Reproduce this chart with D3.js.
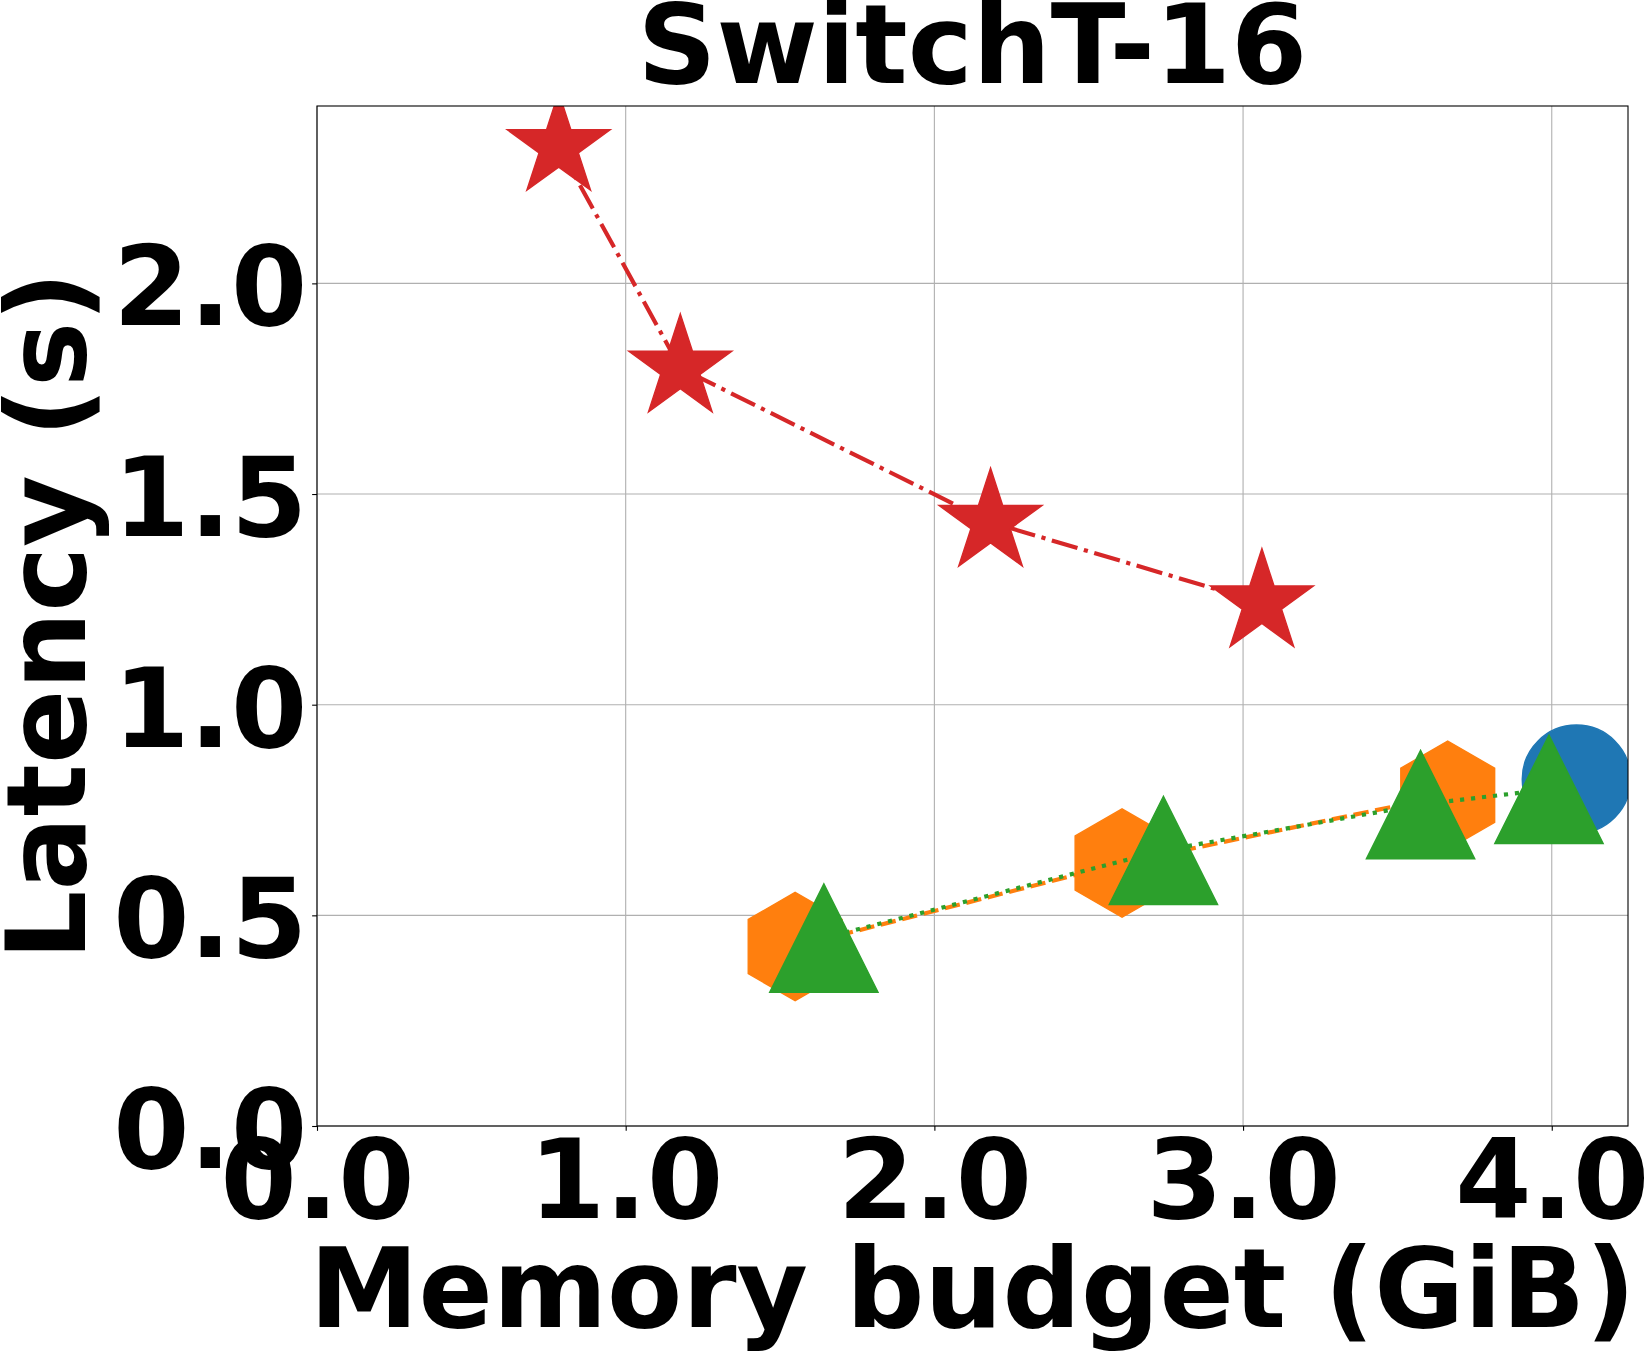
<!DOCTYPE html>
<html>
<head>
<meta charset="utf-8">
<script src="https://cdn.jsdelivr.net/npm/d3@7"></script>
<style>
  html, body { margin: 0; padding: 0; background: #fff; }
  svg { display: block; }
  text { font-family: "DejaVu Sans", sans-serif; font-weight: bold; fill: #000; }
</style>
</head>
<body>
<div id="chart"></div>
<script>
// ---- data ----
const title = "SwitchT-16";
const xLabel = "Memory budget (GiB)";
const yLabel = "Latency (s)";
const xTicks = [0, 1, 2, 3, 4];
const yTicks = [0, 0.5, 1.0, 1.5, 2.0];
const xDomain = [0, 4.247];
const yDomain = [0, 2.421];

const seriesNames = ["circle", "hexagon", "triangle", "star"];
const seriesColors = ["#1f77b4", "#ff7f0e", "#2ca02c", "#d62728"];
const seriesDash = [null, "15.4,6.67", "4.17,6.875", "26.7,6.67,4.17,6.67"];

const circleMem = [4.080];
const circleLat = [0.823];
const hexMem = [1.549, 2.608, 3.663];
const hexLat = [0.426, 0.624, 0.785];
const triMem = [1.642, 2.742, 3.575, 3.991];
const triLat = [0.446, 0.654, 0.763, 0.799];
const starMem = [0.783, 1.177, 2.182, 3.061];
const starLat = [2.325, 1.799, 1.433, 1.242];

// ---- layout ----
const W = 1644, H = 1355;
const plot = { left: 317, top: 106, right: 1628, bottom: 1126 };
const FS = 109.6;
const tickLen = 4.86;
const ms = 108.4;        // marker size (px)
const lw = 4.17;         // line width (px)

const svg = d3.select("#chart").append("svg").attr("width", W).attr("height", H);

const x = d3.scaleLinear().domain(xDomain).range([plot.left, plot.right]);
const y = d3.scaleLinear().domain(yDomain).range([plot.bottom, plot.top]);

svg.append("defs").append("clipPath").attr("id", "clip")
  .append("rect")
  .attr("x", plot.left).attr("y", plot.top)
  .attr("width", plot.right - plot.left).attr("height", plot.bottom - plot.top);

// grid
const grid = svg.append("g");
grid.selectAll(".gx").data(xTicks).enter().append("line")
  .attr("x1", d => x(d)).attr("x2", d => x(d))
  .attr("y1", plot.top).attr("y2", plot.bottom)
  .attr("stroke", "#b0b0b0").attr("stroke-width", 1.1);
grid.selectAll(".gy").data(yTicks).enter().append("line")
  .attr("y1", d => y(d)).attr("y2", d => y(d))
  .attr("x1", plot.left).attr("x2", plot.right)
  .attr("stroke", "#b0b0b0").attr("stroke-width", 1.1);

// marker paths
function starPath(r) {
  const pts = [];
  for (let i = 0; i < 10; i++) {
    const a = (-90 + i * 36) * Math.PI / 180;
    const rr = i % 2 === 0 ? r : r * 0.381966;
    pts.push([rr * Math.cos(a), rr * Math.sin(a)]);
  }
  return "M" + pts.map(p => p.join(",")).join("L") + "Z";
}
function hexPath(r) {
  const pts = [];
  for (let i = 0; i < 6; i++) {
    const a = (-90 + i * 60) * Math.PI / 180;
    pts.push([r * Math.cos(a), r * Math.sin(a)]);
  }
  return "M" + pts.map(p => p.join(",")).join("L") + "Z";
}
function triPath(h) {
  return `M0,${-h}L${-h},${h}L${h},${h}Z`;
}
function circlePath(r) {
  return `M${r},0A${r},${r} 0 1,1 ${-r},0A${r},${r} 0 1,1 ${r},0Z`;
}
const markerPaths = [circlePath(ms / 2), hexPath(ms / 2), triPath(ms / 2), starPath(ms / 2)];

const seriesData = [
  d3.zip(circleMem, circleLat),
  d3.zip(hexMem, hexLat),
  d3.zip(triMem, triLat),
  d3.zip(starMem, starLat)
];

const data = svg.append("g").attr("clip-path", "url(#clip)");
const line = d3.line().x(d => x(d[0])).y(d => y(d[1]));

seriesData.forEach((pts, i) => {
  const g = data.append("g").attr("class", "series-" + seriesNames[i]);
  if (pts.length > 1) {
    g.append("path").datum(pts)
      .attr("d", line)
      .attr("fill", "none")
      .attr("stroke", seriesColors[i])
      .attr("stroke-width", lw)
      .attr("stroke-dasharray", seriesDash[i]);
  }
  g.selectAll(".m").data(pts).enter().append("path")
    .attr("transform", d => `translate(${x(d[0])},${y(d[1])})`)
    .attr("d", markerPaths[i])
    .attr("fill", seriesColors[i])
    .attr("stroke", seriesColors[i])
    .attr("stroke-width", 1.39)
    .attr("stroke-linejoin", "miter");
});

// axes
const xAxis = d3.axisBottom(x).tickValues(xTicks).tickFormat(d3.format(".1f"))
  .tickSize(tickLen).tickSizeOuter(0);
const gx = svg.append("g").attr("transform", `translate(0,${plot.bottom})`).call(xAxis);
gx.select(".domain").remove();
gx.selectAll(".tick line").attr("stroke", "#000").attr("stroke-width", 1.1);
gx.selectAll(".tick text")
  .attr("y", 1218 - plot.bottom).attr("dy", null)
  .style("font-size", FS + "px").style("font-family", "DejaVu Sans").style("font-weight", "bold")
  .attr("fill", "#000");

const yAxis = d3.axisLeft(y).tickValues(yTicks).tickFormat(d3.format(".1f"))
  .tickSize(tickLen).tickSizeOuter(0);
const gy = svg.append("g").attr("transform", `translate(${plot.left},0)`).call(yAxis);
gy.select(".domain").remove();
gy.selectAll(".tick line").attr("stroke", "#000").attr("stroke-width", 1.1);
gy.selectAll(".tick text")
  .attr("x", -9.7).attr("dy", null).attr("y", 41.5)
  .style("font-size", FS + "px").style("font-family", "DejaVu Sans").style("font-weight", "bold")
  .attr("fill", "#000");

// spines
svg.append("rect")
  .attr("x", plot.left).attr("y", plot.top)
  .attr("width", plot.right - plot.left).attr("height", plot.bottom - plot.top)
  .attr("fill", "none").attr("stroke", "#000").attr("stroke-width", 1.1);

// title & labels
svg.append("text")
  .attr("x", (plot.left + plot.right) / 2).attr("y", 83)
  .attr("text-anchor", "middle").style("font-size", FS + "px")
  .text(title);

svg.append("text")
  .attr("x", (plot.left + plot.right) / 2).attr("y", 1327)
  .attr("text-anchor", "middle").style("font-size", FS + "px")
  .text(xLabel);

svg.append("text")
  .attr("transform", `translate(85,${(plot.top + plot.bottom) / 2}) rotate(-90)`)
  .attr("text-anchor", "middle").style("font-size", FS + "px")
  .text(yLabel);
</script>
</body>
</html>
